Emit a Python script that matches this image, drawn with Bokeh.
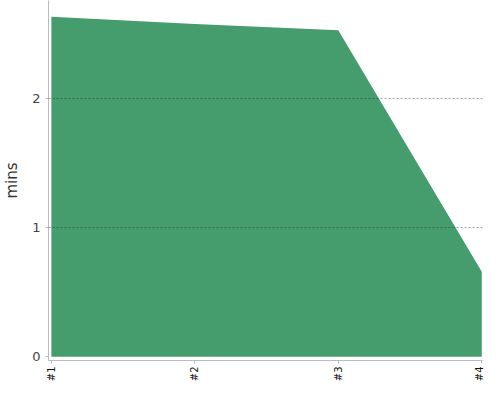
from bokeh.plotting import figure
from bokeh.models import Range1d, FixedTicker
from bokeh.embed import file_html
from bokeh.resources import INLINE
import math

categories = ["#1", "#2", "#3", "#4"]
values = [2.634, 2.578, 2.53, 0.657]
y_ticks = [0, 1, 2]

xs = list(range(len(categories)))

p = figure(width=484, height=384, output_backend="svg", toolbar_location=None,
           x_range=Range1d(-0.02, 3.005), y_range=Range1d(-0.03, 2.76),
           min_border_left=32, min_border_right=2, min_border_top=0, min_border_bottom=24)
p.outline_line_color = None
p.background_fill_color = "white"

p.varea(x=xs, y1=[0] * len(xs), y2=values, fill_color="#459c6d", fill_alpha=1.0)

p.xaxis.ticker = FixedTicker(ticks=xs)
p.xaxis.major_label_overrides = {i: c for i, c in enumerate(categories)}
p.xaxis.major_label_orientation = math.pi / 2
p.xaxis.major_label_text_font = "DejaVu Sans"
p.xaxis.major_label_text_font_size = "10px"
p.xaxis.major_label_text_color = "#111"
p.xaxis.minor_tick_line_color = None
p.xaxis.major_tick_in = 0
p.xaxis.major_tick_out = 3
p.xaxis.axis_line_color = "#bbbbbb"
p.xaxis.major_tick_line_color = "#bbbbbb"
p.xaxis.major_label_standoff = 3

p.yaxis.ticker = FixedTicker(ticks=y_ticks)
p.yaxis.axis_label = "mins"
p.yaxis.axis_label_text_font = "DejaVu Sans"
p.yaxis.axis_label_text_font_style = "normal"
p.yaxis.axis_label_text_font_size = "15px"
p.yaxis.axis_label_text_color = "#333"
p.yaxis.axis_label_standoff = 8
p.yaxis.major_label_text_font = "DejaVu Sans"
p.yaxis.major_label_text_font_size = "13px"
p.yaxis.major_label_text_color = "#444"
p.yaxis.minor_tick_line_color = None
p.yaxis.major_tick_in = 0
p.yaxis.major_tick_out = 3
p.yaxis.axis_line_color = "#bbbbbb"
p.yaxis.major_tick_line_color = "#bbbbbb"

p.xgrid.grid_line_color = None
p.ygrid.ticker = FixedTicker(ticks=[1, 2])
p.ygrid.grid_line_color = "#333333"
p.ygrid.grid_line_alpha = 0.45
p.ygrid.grid_line_dash = "2 2"
p.ygrid.level = "overlay"

open("out.html", "w").write(file_html(p, INLINE))
